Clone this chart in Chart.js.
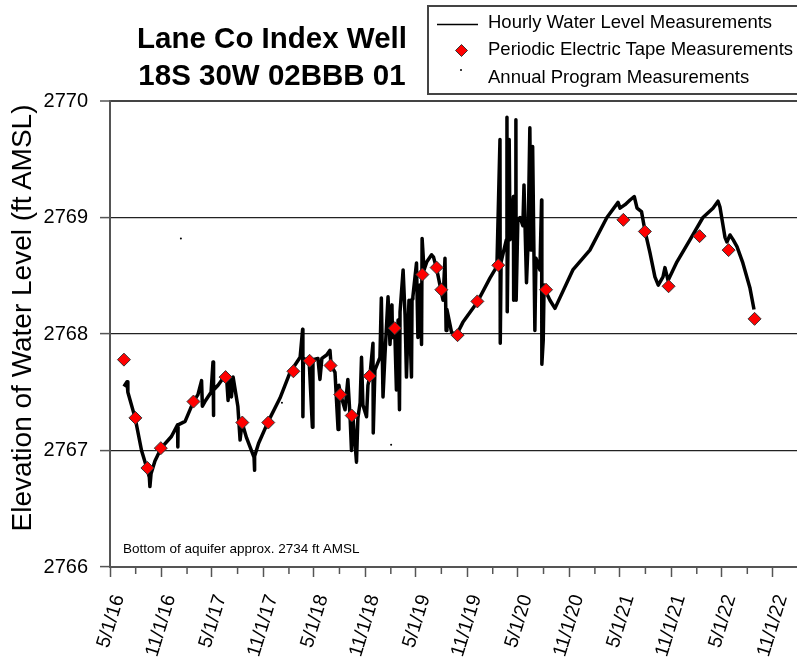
<!DOCTYPE html>
<html>
<head>
<meta charset="utf-8">
<script src="https://cdn.jsdelivr.net/npm/chart.js@4.4.0/dist/chart.umd.min.js"></script>
<style>
  html, body { margin: 0; padding: 0; background: #fff; overflow: hidden; }
  #wrap { position: relative; width: 797px; height: 660px; font-family: "Liberation Sans", Arial, sans-serif; color: #000; }
  #chart { position: absolute; left: 0; top: 0; }
  .title { position: absolute; left: 72px; top: 19px; width: 400px; text-align: center; font-weight: bold; font-size: 29.5px; line-height: 37px; }
  .legend { position: absolute; left: 427px; top: 5px; width: 400px; height: 86px; border: 2px solid #444; }
  .legend span { position: absolute; left: 59px; font-size: 18.5px; line-height: 18.5px; white-space: nowrap; }
  .legend svg { position: absolute; left: 0; top: 0; }
  .ytitle { position: absolute; left: -228px; top: 304px; width: 500px; height: 28px; line-height: 28px; font-size: 28px; text-align: center; transform: rotate(-90deg); white-space: nowrap; }
  .note { position: absolute; left: 123px; top: 542px; font-size: 13.5px; line-height: 13.5px; white-space: nowrap; }
</style>
</head>
<body>
<div id="wrap">
  <canvas id="chart" width="797" height="660"></canvas>
  <div class="title">Lane Co Index Well<br>18S 30W 02BBB 01</div>
  <div class="legend">
    <svg width="60" height="86">
      <line x1="8" y1="17.5" x2="49" y2="17.5" stroke="#000" stroke-width="1.5"/>
      <path d="M32.5 37.5 L38.5 43.5 L32.5 49.5 L26.5 43.5 Z" fill="#ff0000" stroke="#333" stroke-width="1"/>
      <circle cx="32" cy="63" r="1" fill="#000"/>
    </svg>
    <span style="top:6px">Hourly Water Level Measurements</span>
    <span style="top:33px">Periodic Electric Tape Measurements</span>
    <span style="top:61px">Annual Program Measurements</span>
  </div>
  <div class="ytitle">Elevation of Water Level (ft AMSL)</div>
  <div class="note">Bottom of aquifer approx. 2734 ft AMSL</div>
</div>
<script>
// hourly transducer record
var hourlyDates = [
  '2016-06-20','2016-07-01','2016-07-04','2016-07-30','2016-08-22','2016-09-10','2016-09-19','2016-09-21','2016-09-25','2016-10-09','2016-10-31','2016-12-07','2016-12-29','2016-12-30','2016-12-31',
  '2017-01-25','2017-02-24','2017-03-12','2017-03-25','2017-03-28','2017-04-06','2017-04-28','2017-05-05','2017-05-06','2017-05-08','2017-05-23','2017-06-10','2017-06-22','2017-06-28','2017-07-03','2017-07-10','2017-07-16','2017-08-02','2017-08-10','2017-08-17','2017-09-02','2017-09-29','2017-09-30','2017-10-02','2017-10-15','2017-11-19','2017-12-31',
  '2018-02-05','2018-03-13','2018-03-22','2018-03-23','2018-03-25','2018-04-14','2018-04-26','2018-04-28','2018-05-16','2018-05-23','2018-05-30','2018-06-16','2018-06-28','2018-07-02','2018-07-16','2018-07-27','2018-07-30','2018-08-04','2018-08-21','2018-08-31','2018-09-08','2018-09-13','2018-09-18','2018-10-01','2018-10-06','2018-10-14','2018-10-19','2018-10-24','2018-11-06','2018-11-11','2018-11-18','2018-11-29','2018-11-30','2018-12-06','2018-12-24','2018-12-29',
  '2019-01-04','2019-01-11','2019-01-22','2019-01-29','2019-02-05','2019-02-07','2019-02-15','2019-02-21','2019-02-27','2019-03-04','2019-03-06','2019-03-17','2019-03-24','2019-03-29','2019-04-07','2019-04-16','2019-04-18','2019-04-21','2019-05-04','2019-05-09','2019-05-16','2019-05-22','2019-05-24','2019-05-31','2019-06-10','2019-06-27','2019-07-04','2019-07-16','2019-07-27','2019-08-07','2019-08-14','2019-08-18','2019-08-21','2019-09-06','2019-09-22','2019-10-17','2019-12-07',
  '2020-01-22','2020-02-16','2020-02-27','2020-02-28','2020-03-02','2020-03-21','2020-03-23','2020-03-24','2020-03-27','2020-03-31','2020-04-03','2020-04-15','2020-04-16','2020-04-21','2020-04-24','2020-04-25','2020-05-01','2020-05-09','2020-05-19','2020-05-23','2020-06-01','2020-06-06','2020-06-13','2020-06-17','2020-06-23','2020-07-01','2020-07-05','2020-07-19','2020-07-25','2020-07-26','2020-07-31','2020-08-03','2020-08-12','2020-08-24','2020-09-11','2020-11-14',
  '2021-01-14','2021-03-16','2021-04-25','2021-05-02','2021-05-20','2021-06-07','2021-06-22','2021-07-02','2021-07-18','2021-07-30','2021-08-17','2021-09-04','2021-09-16','2021-10-03','2021-10-10','2021-10-21','2021-11-22',
  '2022-01-08','2022-02-23','2022-03-31','2022-04-18','2022-04-25','2022-05-13','2022-05-20','2022-05-31','2022-06-11','2022-06-25','2022-07-16','2022-08-10','2022-08-25'
];
var hourlyLevels = [
  2767.55, 2767.59, 2767.50, 2767.28, 2767.00, 2766.85, 2766.77, 2766.69, 2766.80, 2766.91, 2767.02, 2767.12, 2767.22, 2767.03, 2767.22,
  2767.25, 2767.42, 2767.48, 2767.60, 2767.38, 2767.42, 2767.50, 2767.76, 2767.30, 2767.52, 2767.56, 2767.62, 2767.65, 2767.43, 2767.62, 2767.46, 2767.63, 2767.38, 2767.09, 2767.24, 2767.11, 2766.94, 2766.83, 2766.95, 2767.06, 2767.25, 2767.45,
  2767.67, 2767.80, 2768.04, 2767.29, 2767.78, 2767.79, 2767.20, 2767.78, 2767.79, 2767.61, 2767.79, 2767.82, 2767.86, 2767.73, 2767.67, 2767.18, 2767.56, 2767.49, 2767.35, 2767.61, 2767.29, 2767.00, 2767.30, 2766.90, 2767.28, 2767.41, 2767.80, 2767.39, 2767.29, 2767.56, 2767.64, 2767.92, 2767.15, 2767.69, 2767.80, 2768.31,
  2767.46, 2767.82, 2768.32, 2767.91, 2768.25, 2767.97, 2768.04, 2767.52, 2768.12, 2767.35, 2768.19, 2768.55, 2768.16, 2767.63, 2768.29, 2767.63, 2768.30, 2768.32, 2768.61, 2767.97, 2768.42, 2767.91, 2768.82, 2768.55, 2768.62, 2768.68, 2768.66, 2768.55, 2768.42, 2768.29, 2768.65, 2768.03, 2768.21, 2768.02, 2767.98, 2768.10, 2768.27,
  2768.48, 2768.58, 2769.67, 2767.92, 2768.62, 2768.81, 2769.86, 2768.19, 2768.82, 2769.67, 2768.81, 2769.18, 2768.29, 2768.93, 2769.84, 2768.29, 2768.98, 2769.00, 2768.93, 2769.28, 2768.44, 2768.74, 2769.77, 2768.72, 2769.61, 2768.03, 2768.65, 2768.55, 2769.15, 2767.74, 2767.95, 2768.42, 2768.35, 2768.29, 2768.22, 2768.55,
  2768.72, 2769.00, 2769.13, 2769.08, 2769.11, 2769.15, 2769.18, 2769.08, 2769.05, 2768.89, 2768.70, 2768.49, 2768.42, 2768.49, 2768.57, 2768.46, 2768.62,
  2768.81, 2769.00, 2769.08, 2769.14, 2769.09, 2768.83, 2768.79, 2768.85, 2768.81, 2768.75, 2768.61, 2768.40, 2768.21
];

// periodic electric tape measurements
var tapeDates = ['2016-06-20','2016-07-31','2016-09-12','2016-10-30','2017-02-24','2017-06-19','2017-08-18','2017-11-19','2018-02-17','2018-04-16','2018-06-30','2018-08-04','2018-09-14','2018-11-17','2019-02-15','2019-05-25','2019-07-15','2019-08-01','2019-09-28','2019-12-08','2020-02-21','2020-08-10','2021-05-14','2021-07-30','2021-10-23','2022-02-11','2022-05-26','2022-08-27'];
var tapeLevels = [2767.78, 2767.28, 2766.85, 2767.02, 2767.42, 2767.63, 2767.24, 2767.24, 2767.68, 2767.77, 2767.73, 2767.48, 2767.30, 2767.64, 2768.05, 2768.51, 2768.57, 2768.38, 2767.99, 2768.28, 2768.59, 2768.38, 2768.98, 2768.88, 2768.41, 2768.84, 2768.72, 2768.13];

// annual program measurements
var annualDates = ['2017-01-10','2018-01-07','2019-02-02'];
var annualLevels = [2768.82, 2767.41, 2767.05];

// axis ticks
var tickLabels = ['5/1/16','11/1/16','5/1/17','11/1/17','5/1/18','11/1/18','5/1/19','11/1/19','5/1/20','11/1/20','5/1/21','11/1/21','5/1/22','11/1/22'];
var minorTickDates = ['2016-08-01','2017-02-01','2017-08-01','2018-02-01','2018-08-01','2019-02-01','2019-08-01','2020-02-01','2020-08-01','2021-02-01','2021-08-01','2022-02-01','2022-08-01'];
var xMin = '2016-05-01';
var xMax = '2023-01-26';
var yTicks = [2766, 2767, 2768, 2769, 2770];

function labelToTime(s) {
  var p = s.split('/');
  return Date.UTC(2000 + Number(p[2]), Number(p[0]) - 1, Number(p[1]));
}
function pairs(dates, vals) {
  return dates.map(function (d, i) { return { x: Date.parse(d), y: vals[i] }; });
}

var majorTimes = tickLabels.map(labelToTime);
var labelByTime = {};
tickLabels.forEach(function (l, i) { labelByTime[majorTimes[i]] = l; });

// short minor ticks on the date axis
var minorTicks = {
  id: 'minorTicks',
  afterDraw: function (chart) {
    var sx = chart.scales.x, c = chart.ctx;
    c.save();
    c.strokeStyle = '#555';
    c.lineWidth = 1.5;
    minorTickDates.forEach(function (d) {
      var px = sx.getPixelForValue(Date.parse(d));
      c.beginPath();
      c.moveTo(px, sx.top);
      c.lineTo(px, sx.top + 7);
      c.stroke();
    });
    c.restore();
  }
};

const ctx = document.getElementById('chart').getContext('2d');
new Chart(ctx, {
  type: 'scatter',
  data: {
    datasets: [
      {
        label: 'Periodic Electric Tape Measurements',
        data: pairs(tapeDates, tapeLevels),
        pointStyle: 'rectRot',
        pointRadius: 6.5,
        backgroundColor: '#ff0000',
        borderColor: '#333',
        borderWidth: 1,
        order: 0
      },
      {
        label: 'Annual Program Measurements',
        data: pairs(annualDates, annualLevels),
        pointRadius: 1,
        backgroundColor: '#000',
        borderWidth: 0,
        order: 1
      },
      {
        label: 'Hourly Water Level Measurements',
        data: pairs(hourlyDates, hourlyLevels),
        showLine: true,
        pointRadius: 0,
        borderColor: '#000',
        borderWidth: 3.5,
        borderJoinStyle: 'round',
        order: 2
      }
    ]
  },
  options: {
    responsive: false,
    animation: false,
    devicePixelRatio: 1,
    layout: { autoPadding: false, padding: { top: 101, left: 0, right: 0, bottom: 0 } },
    plugins: { legend: { display: false }, tooltip: { enabled: false }, title: { display: false } },
    scales: {
      x: {
        type: 'linear',
        min: Date.parse(xMin),
        max: Date.parse(xMax),
        afterBuildTicks: function (axis) {
          axis.ticks = majorTimes.map(function (v) { return { value: v }; });
        },
        afterFit: function (axis) {
          axis.height = 93;
          axis.paddingLeft = 0;
          axis.paddingRight = 0;
        },
        border: { display: true, color: '#555', width: 2 },
        grid: { drawOnChartArea: false, drawTicks: true, tickLength: 10, tickColor: '#555', tickWidth: 1.5 },
        ticks: {
          autoSkip: false,
          minRotation: 73,
          maxRotation: 73,
          padding: 15,
          labelOffset: 9,
          color: '#000',
          font: { family: '"Liberation Sans", Arial, sans-serif', size: 19.5 },
          callback: function (v) { return labelByTime[v] || ''; }
        }
      },
      y: {
        min: 2766,
        max: 2770,
        afterBuildTicks: function (axis) {
          axis.ticks = yTicks.map(function (v) { return { value: v }; });
        },
        afterFit: function (axis) { axis.width = 110; },
        border: { display: true, color: '#555', width: 2 },
        grid: {
          drawOnChartArea: true,
          tickLength: 10,
          tickColor: '#555',
          tickWidth: 1.5,
          color: function (c) {
            if (c.tick.value === 2766) return 'rgba(0,0,0,0)';
            if (c.tick.value === 2770) return '#444';
            return '#222';
          },
          lineWidth: function (c) { return c.tick.value === 2770 ? 2 : 1.2; }
        },
        ticks: {
          padding: 12,
          color: '#000',
          font: { family: '"Liberation Sans", Arial, sans-serif', size: 20 },
          callback: function (v) { return String(v); }
        }
      }
    }
  },
  plugins: [minorTicks]
});
</script>
</body>
</html>
